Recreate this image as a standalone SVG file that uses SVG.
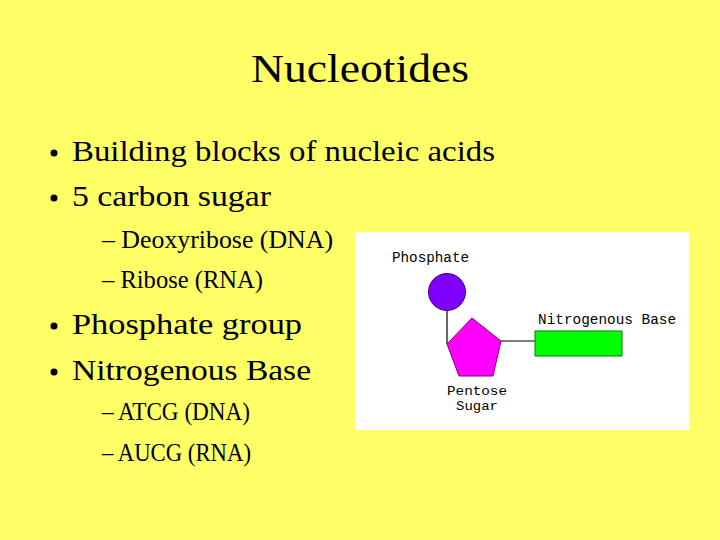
<svg xmlns="http://www.w3.org/2000/svg" width="720" height="540" viewBox="0 0 720 540">
<style>
.t{font-family:"Liberation Serif",serif;fill:#000}
.b{font-size:30px}
.s{font-size:25px}
.m{font-family:"Liberation Mono",monospace;font-size:14px;fill:#000}
.p{font-size:12.5px}
</style>
<rect width="720" height="540" fill="#ffff66"/>
<text class="t" x="251" y="82" font-size="40" textLength="218" lengthAdjust="spacingAndGlyphs">Nucleotides</text>
<g class="t b">
<circle cx="54" cy="153" r="3.5"/><text x="72" y="161" textLength="423" lengthAdjust="spacingAndGlyphs">Building blocks of nucleic acids</text>
<circle cx="54" cy="198" r="3.5"/><text x="72" y="206" textLength="199" lengthAdjust="spacingAndGlyphs">5 carbon sugar</text>
<circle cx="54" cy="326" r="3.5"/><text x="72" y="334" textLength="230" lengthAdjust="spacingAndGlyphs">Phosphate group</text>
<circle cx="54" cy="372" r="3.5"/><text x="72" y="380" textLength="239" lengthAdjust="spacingAndGlyphs">Nitrogenous Base</text>
</g>
<g class="t s">
<text x="102" y="248" textLength="231" lengthAdjust="spacingAndGlyphs">– Deoxyribose (DNA)</text>
<text x="102" y="288" textLength="161" lengthAdjust="spacingAndGlyphs">– Ribose (RNA)</text>
<text x="102" y="420" textLength="148" lengthAdjust="spacingAndGlyphs">– ATCG (DNA)</text>
<text x="102" y="461" textLength="149" lengthAdjust="spacingAndGlyphs">– AUCG (RNA)</text>
</g>
<rect x="355" y="232" width="334" height="198" fill="#fff"/>
<g id="connectors" stroke="#000" stroke-width="1.2">
<line x1="447" y1="310" x2="447" y2="344"/>
<line x1="501" y1="341" x2="535" y2="341"/>
</g>
<g id="phosphate">
<circle cx="447" cy="292" r="18.5" fill="#7f00ff" stroke="#40007f"/>
<text class="m" x="392" y="262" textLength="77" lengthAdjust="spacingAndGlyphs">Phosphate</text>
</g>
<g id="sugar">
<polygon points="472,318 501,341 493,376 459,376 447,344" fill="#ff00ff" stroke="#7f007f"/>
<text class="m p" x="447" y="395" textLength="60" lengthAdjust="spacingAndGlyphs">Pentose</text>
<text class="m p" x="456" y="410" textLength="42" lengthAdjust="spacingAndGlyphs">Sugar</text>
</g>
<g id="base">
<rect x="535" y="331" width="87" height="25" fill="#00ff00" stroke="#007f00"/>
<text class="m" x="538" y="324" textLength="138" lengthAdjust="spacingAndGlyphs">Nitrogenous Base</text>
</g>
</svg>
